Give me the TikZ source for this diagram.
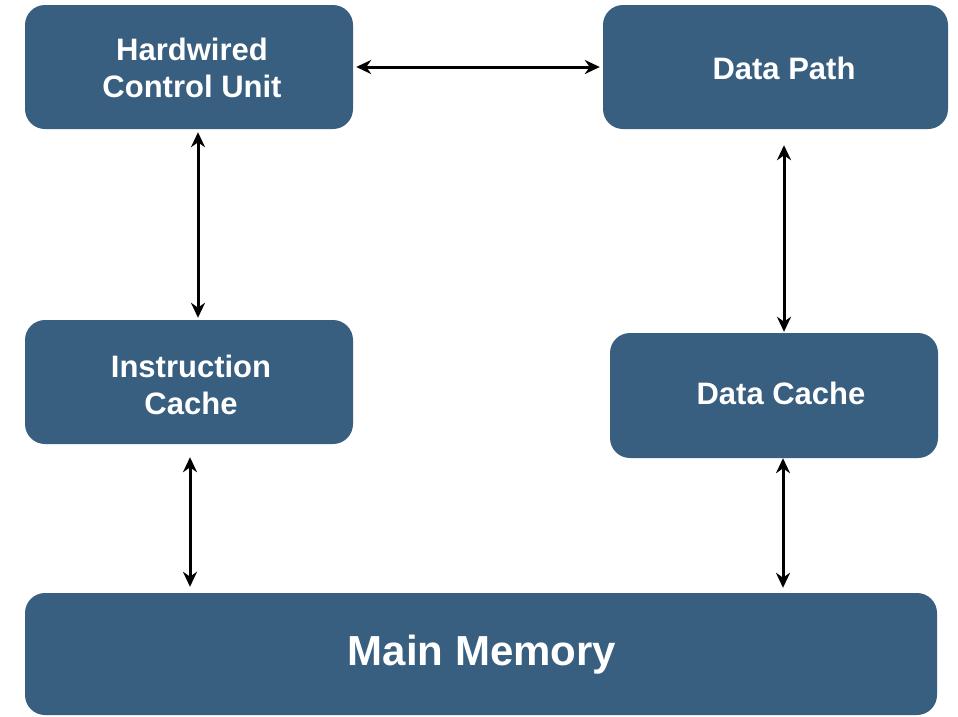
\documentclass[tikz,border=0pt]{standalone}
\usepackage{fontspec}
\setmainfont{Liberation Sans}
\usetikzlibrary{arrows.meta}
\definecolor{boxblue}{RGB}{56,94,128}
\begin{document}
\begin{tikzpicture}[x=1pt,y=1pt,
  blk/.style={fill=boxblue,draw=none,rounded corners=20pt,inner sep=0pt,
    text=white,font=\bfseries\fontsize{31}{36.7}\selectfont,align=center},
  link/.style={{Stealth[length=15pt,width=14pt]}-{Stealth[length=15pt,width=14pt]},line width=3pt,black}]
\useasboundingbox (0,0) rectangle (958,-716);
% boxes
\node[blk,minimum width=328pt,minimum height=124pt] (hcu) at (189,-67) {};
\node[blk,minimum width=345pt,minimum height=124pt] (dp) at (775.5,-67) {};
\node[blk,minimum width=328pt,minimum height=124pt] (ic) at (189,-382) {};
\node[blk,minimum width=328pt,minimum height=125pt] (dc) at (774,-395.5) {};
\node[blk,minimum width=912pt,minimum height=122pt] (mm) at (481,-654) {};
% labels
\node[blk,fill=none] (hcut) at (192,-68) {Hardwired\\Control Unit};
\node[blk,fill=none] (dpt) at (784,-68) {Data Path};
\node[blk,fill=none] (ict) at (191,-385) {Instruction\\Cache};
\node[blk,fill=none] (dct) at (781,-393) {Data Cache};
\node[blk,fill=none,font=\bfseries\fontsize{42}{50}\selectfont] (mmt) at (482,-655) {Main Memory};
% connectors
\draw[link,shorten <=3pt,shorten >=3pt] (hcu.east) -- (dp.west);
\draw[link,shorten <=3pt,shorten >=2pt] ([xshift=9pt]hcu.south) -- ([xshift=9pt]ic.north);
\draw[link,shorten <=16pt,shorten >=1pt] ([xshift=8.5pt]dp.south) -- ([xshift=10pt]dc.north);
\draw[link,shorten <=13pt,shorten >=6pt] ([xshift=1pt]ic.south) -- ([xshift=1pt]ic.south |- mm.north);
\draw[link,shorten <=0pt,shorten >=5pt] ([xshift=9pt]dc.south) -- ([xshift=9pt]dc.south |- mm.north);
\end{tikzpicture}
\end{document}
